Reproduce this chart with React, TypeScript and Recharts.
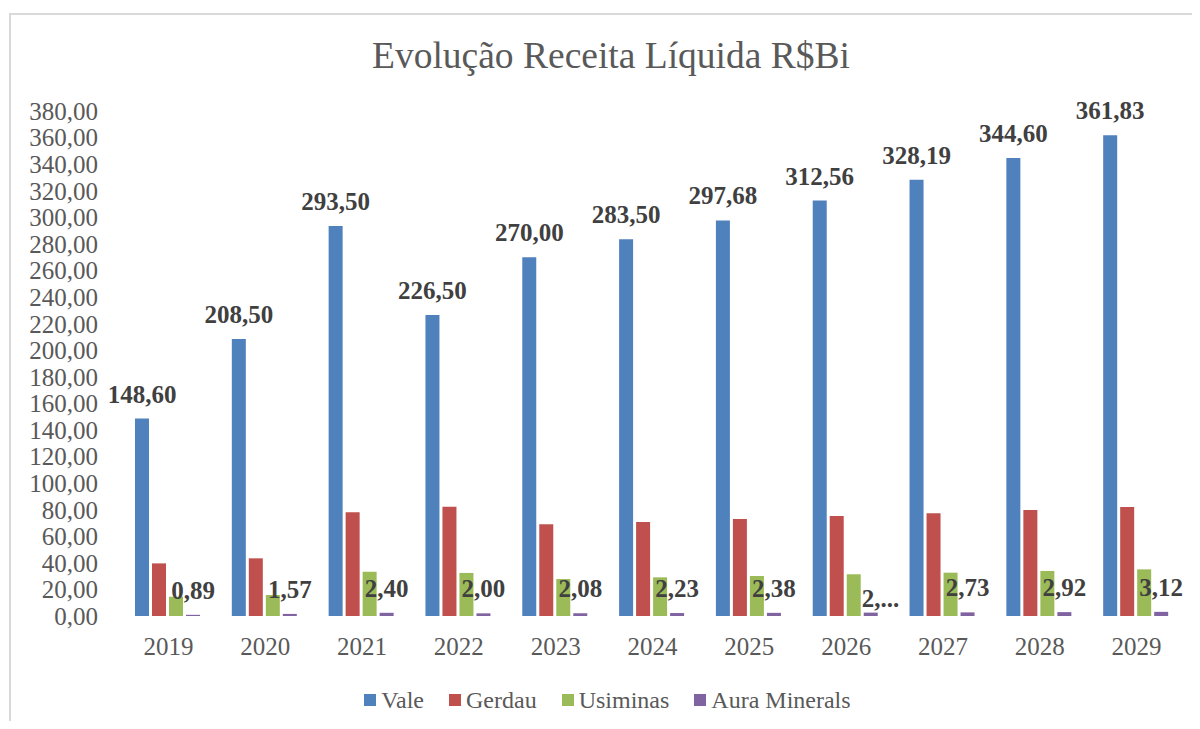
import React from "react";
import { Bar, BarChart, LabelList, Legend, XAxis, YAxis } from "recharts";

// Receita líquida (R$ bi) por empresa, 2019–2029.
const YEARS = ["2019", "2020", "2021", "2022", "2023", "2024", "2025", "2026", "2027", "2028", "2029"];
const VALE = [148.6, 208.5, 293.5, 226.5, 270.0, 283.5, 297.68, 312.56, 328.19, 344.6, 361.83];
const GERDAU = [39.6, 43.4, 78.0, 82.3, 69.0, 70.7, 73.0, 75.2, 77.3, 79.8, 82.0];
const USIMINAS = [14.5, 15.8, 33.3, 32.4, 27.8, 29.1, 30.1, 31.4, 32.6, 33.9, 35.1];
const AURA = [0.89, 1.57, 2.4, 2.0, 2.08, 2.23, 2.38, 2.55, 2.73, 2.92, 3.12];
// Excel truncated the 2026 label, kept as shown.
const AURA_LABELS = ["0,89", "1,57", "2,40", "2,00", "2,08", "2,23", "2,38", "2,...", "2,73", "2,92", "3,12"];
const SERIES_NAMES = ["Vale", "Gerdau", "Usiminas", "Aura Minerals"];
const Y_TICKS = [0, 20, 40, 60, 80, 100, 120, 140, 160, 180, 200, 220, 240, 260, 280, 300, 320, 340, 360, 380];
const BOUNDARY_TICKS = [0, 1, 2, 3, 4, 5, 6, 7, 8, 9, 10, 11];

const FONT = "'Liberation Serif', 'Times New Roman', serif";
const TEXT = "#595959";
const LABEL = "#404040";
const AXIS = "#d9d9d9";
const COLORS = { vale: "#4f81bd", gerdau: "#c0504d", usiminas: "#9bbb59", aura: "#8064a2" };

const W = 1184;
const H = 713;

const data = YEARS.map((year, i) => ({
  year,
  vale: VALE[i],
  gerdau: GERDAU[i],
  usiminas: USIMINAS[i],
  aura: AURA[i],
}));

const fmt = (v: number) => v.toFixed(2).replace(".", ",");

function YearTick(props: any) {
  const { x, y, payload } = props;
  return (
    <text x={x} y={y + 39} textAnchor="middle" fill={TEXT} fontSize={25} fontFamily={FONT}>
      {payload.value}
    </text>
  );
}

function ValeLabel(props: any) {
  const { x, y, width, value } = props;
  return (
    <text x={x + width / 2} y={y - 16} textAnchor="middle" fill={LABEL} fontSize={25} fontWeight="bold" fontFamily={FONT}>
      {fmt(value)}
    </text>
  );
}

function AuraLabel(props: any) {
  const { x, y, width, index } = props;
  const text = AURA_LABELS[index];
  // the truncated label sits lower and left-aligned, like in the workbook
  if (text.endsWith("...")) {
    return (
      <text x={x + width / 2 - 9} y={y - 6} fill={LABEL} fontSize={25} fontWeight="bold" fontFamily={FONT}>
        {text}
      </text>
    );
  }
  return (
    <text x={x + width / 2} y={y - 16} textAnchor="middle" fill={LABEL} fontSize={25} fontWeight="bold" fontFamily={FONT}>
      {text}
    </text>
  );
}

function LegendContent(props: any) {
  const items = [...(props.payload ?? [])].sort(
    (a: any, b: any) => SERIES_NAMES.indexOf(a.value) - SERIES_NAMES.indexOf(b.value),
  );
  return (
    <div style={{ display: "flex", justifyContent: "center", alignItems: "center", height: 30, gap: 25, paddingLeft: 22, fontFamily: FONT }}>
      {items.map((it: any) => (
        <div key={it.value} style={{ display: "flex", alignItems: "center", gap: 5 }}>
          <span style={{ display: "inline-block", width: 12, height: 12, background: it.color }} />
          <span style={{ fontSize: 24, color: TEXT, lineHeight: "30px", fontFamily: FONT }}>{it.value}</span>
        </div>
      ))}
    </div>
  );
}

export default function App() {
  return (
    <div style={{ position: "relative", width: W, height: H, overflow: "hidden", background: "#fff" }}>
      <div
        style={{
          position: "absolute",
          left: 1,
          top: 5,
          width: 3000,
          height: 3000,
          borderLeft: `2px solid ${AXIS}`,
          borderTop: `2px solid ${AXIS}`,
        }}
      />
      <div
        style={{
          position: "absolute",
          left: 603,
          top: 28.6,
          transform: "translateX(-50%)",
          whiteSpace: "nowrap",
          fontFamily: FONT,
          fontSize: 37.5,
          lineHeight: 1,
          color: TEXT,
        }}
      >
        Evolução Receita Líquida R$Bi
      </div>
      <div style={{ position: "absolute", left: 0, top: 0 }}>
        <BarChart
          width={W}
          height={H}
          data={data}
          margin={{ top: 103, right: 7, bottom: 6, left: 0 }}
          barCategoryGap={15}
          barGap={3}
        >
          <XAxis
            xAxisId="bounds"
            type="number"
            domain={[0, 11]}
            ticks={BOUNDARY_TICKS}
            allowDataOverflow
            height={0}
            tick={false}
            tickSize={8}
            tickLine={{ stroke: AXIS, strokeWidth: 2 }}
            axisLine={{ stroke: AXIS, strokeWidth: 2 }}
          />
          <XAxis
            dataKey="year"
            height={69}
            axisLine={false}
            tickLine={false}
            tickSize={0}
            tickMargin={0}
            tick={<YearTick />}
            interval={0}
          />
          <YAxis
            width={112}
            domain={[0, 380]}
            ticks={Y_TICKS}
            interval={0}
            axisLine={false}
            tickLine={false}
            tickSize={0}
            tickMargin={22}
            tickFormatter={fmt}
            tick={{ fill: TEXT, fontSize: 25, fontFamily: FONT }}
          />
          <Legend verticalAlign="bottom" content={<LegendContent />} />
          <Bar dataKey="vale" name="Vale" fill={COLORS.vale} isAnimationActive={false}>
            <LabelList dataKey="vale" content={<ValeLabel />} />
          </Bar>
          <Bar dataKey="gerdau" name="Gerdau" fill={COLORS.gerdau} isAnimationActive={false} />
          <Bar dataKey="usiminas" name="Usiminas" fill={COLORS.usiminas} isAnimationActive={false} />
          <Bar dataKey="aura" name="Aura Minerals" fill={COLORS.aura} isAnimationActive={false}>
            <LabelList dataKey="aura" content={<AuraLabel />} />
          </Bar>
        </BarChart>
      </div>
    </div>
  );
}
